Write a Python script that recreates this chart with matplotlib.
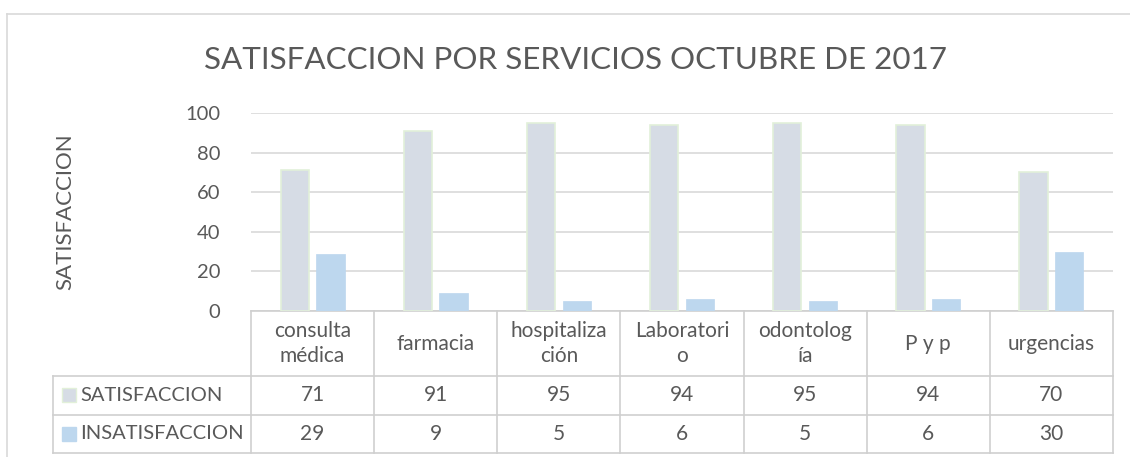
import matplotlib
matplotlib.use("Agg")
import matplotlib.pyplot as plt
from matplotlib.patches import Rectangle
from matplotlib.lines import Line2D
import numpy as np

categories = ["consulta\nmédica", "farmacia", "hospitaliza\nción", "Laboratori\no",
              "odontolog\nía", "P y p", "urgencias"]
satisfaccion = [71, 91, 95, 94, 95, 94, 70]
insatisfaccion = [29, 9, 5, 6, 5, 6, 30]
series_names = ["SATISFACCION", "INSATISFACCION"]
yticks = [0, 20, 40, 60, 80, 100]
title = "SATISFACCION POR SERVICIOS OCTUBRE DE 2017"
ylabel = "SATISFACCION"

plt.rcParams['font.family'] = ['Lato', 'DejaVu Sans']
TXT = "#595959"
GRID = "#D9D9D9"
TLINE = "#CFCFCF"
C_SAT = "#D6DCE5"
C_SAT_EDGE = "#E2F0D9"
C_INS = "#BDD7EE"

W, H = 1130, 457
fig = plt.figure(figsize=(W / 100, H / 100), dpi=100)

# outer chart border
fig.add_artist(Line2D([7 / W, 7 / W], [0, 1 - 14 / H], color=GRID, lw=1.2, transform=fig.transFigure))
fig.add_artist(Line2D([7 / W, 1], [1 - 14 / H, 1 - 14 / H], color=GRID, lw=1.2, transform=fig.transFigure))

ax_l, ax_r, ax_t, ax_b = 251, 1113, 113, 311
ax = fig.add_axes([ax_l / W, 1 - ax_b / H, (ax_r - ax_l) / W, (ax_b - ax_t) / H])

x = np.arange(len(categories))
bw = 0.23
off = 0.145
ax.bar(x - off, satisfaccion, bw, color=C_SAT, edgecolor=C_SAT_EDGE, linewidth=1.2, zorder=3)
ax.bar(x + off, insatisfaccion, bw, color=C_INS, edgecolor=C_INS, linewidth=0.5, zorder=3)

ax.set_xlim(-0.5, len(categories) - 0.5)
ax.set_ylim(0, 100)
ax.set_yticks(yticks)
ax.set_yticklabels([str(v) for v in yticks], fontsize=14.5, color=TXT)
ax.tick_params(axis='y', length=0, pad=22)
ax.set_xticks([])
for s in ax.spines.values():
    s.set_visible(False)
ax.grid(axis='y', color=GRID, lw=1.2, zorder=0)
ax.set_axisbelow(True)

ax.text(-0.5 - 186 / 123.1, 50, ylabel, rotation=90, ha='center', va='center',
        fontsize=16, color=TXT)

fig.text(575 / W, 1 - 60 / H, title, ha='center', va='center', fontsize=22.6, color=TXT)

# data table
px = 1 / (ax_b - ax_t)  # axes fraction per pixel
rows = [0, -65 * px, -103.5 * px, -141.5 * px]
left_x = -0.5 - 198 / 123.1
right_x = len(categories) - 0.5
tr = ax.get_xaxis_transform()
# horizontal lines
ax.plot([-0.5, right_x], [rows[0], rows[0]], color=TLINE, lw=1.2, transform=tr, clip_on=False)
for r in rows[1:]:
    ax.plot([left_x, right_x], [r, r], color=TLINE, lw=1.2, transform=tr, clip_on=False)
# vertical lines
ax.plot([left_x, left_x], [rows[1], rows[3]], color=TLINE, lw=1.2, transform=tr, clip_on=False)
for b in np.arange(len(categories) + 1) - 0.5:
    ax.plot([b, b], [rows[0], rows[3]], color=TLINE, lw=1.2, transform=tr, clip_on=False)

FS = 15
for i, c in enumerate(categories):
    ax.text(i, (rows[0] + rows[1]) / 2, c, ha='center', va='center', fontsize=FS,
            color=TXT, transform=tr, linespacing=1.3)
    ax.text(i, (rows[1] + rows[2]) / 2, str(satisfaccion[i]), ha='center', va='center',
            fontsize=FS, color=TXT, transform=tr)
    ax.text(i, (rows[2] + rows[3]) / 2, str(insatisfaccion[i]), ha='center', va='center',
            fontsize=FS, color=TXT, transform=tr)

# legend keys in table
key_w = 14 / 123.1
for j, (name, fc, ec) in enumerate([(series_names[0], C_SAT, C_SAT_EDGE), (series_names[1], C_INS, C_INS)]):
    yc = (rows[j + 1] + rows[j + 2]) / 2
    kx = left_x + 9 / 123.1
    ax.add_patch(Rectangle((kx, yc - 7 * px), key_w, 14 * px, facecolor=fc, edgecolor=ec,
                           lw=1, transform=tr, clip_on=False))
    ax.text(kx + key_w + 4 / 123.1, yc, name, ha='left', va='center', fontsize=14.5,
            color=TXT, transform=tr)

fig.savefig("out.png", dpi=100)
